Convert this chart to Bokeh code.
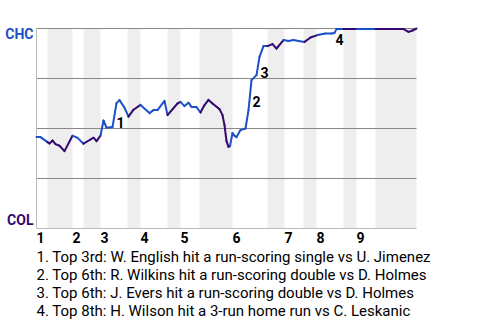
from bokeh.plotting import figure
from bokeh.models import Range1d, Label
from bokeh.embed import file_html
from bokeh.resources import INLINE

# ---- data ----
teams = ["CHC", "COL"]
innings = ["1", "2", "3", "4", "5", "6", "7", "8", "9"]
inning_start = [0, 36, 64, 104, 144, 196, 248, 280, 320]
bottom_start = [11, 47, 91, 131, 163, 231, 267, 307, 339]
bottom_end = [36, 64, 104, 144, 196, 248, 280, 320, 380]

# game progress (x) and CHC win probability (y)
progress = [0, 4, 11, 13, 16, 19, 23, 28, 36, 41, 47, 54, 57, 60, 64, 67, 70, 76, 80, 83,
            88, 92, 97, 104, 113, 117, 121, 128, 131, 141, 144, 148, 152, 155, 160, 164,
            168, 172, 176, 183, 186, 188, 190, 192, 193.5, 196, 198, 200, 204, 209, 212,
            215, 220, 223, 227, 231, 236, 240, 247, 252, 257, 262, 268, 274, 281, 289,
            295, 298, 300, 307, 320, 339, 367, 372, 376, 380]
chc_wp = [0.458, 0.457, 0.432, 0.425, 0.44, 0.422, 0.414, 0.387, 0.464, 0.453, 0.424,
          0.445, 0.454, 0.437, 0.464, 0.54, 0.504, 0.507, 0.627, 0.642, 0.604, 0.559,
          0.594, 0.618, 0.577, 0.592, 0.592, 0.638, 0.567, 0.625, 0.633, 0.612, 0.629,
          0.608, 0.607, 0.58, 0.617, 0.643, 0.625, 0.597, 0.567, 0.517, 0.437, 0.408,
          0.412, 0.477, 0.464, 0.457, 0.492, 0.5, 0.592, 0.742, 0.767, 0.858, 0.912,
          0.912, 0.922, 0.9, 0.942, 0.937, 0.942, 0.937, 0.933, 0.955, 0.967, 0.975,
          0.975, 0.978, 0.997, 0.997, 0.997, 0.997, 0.997, 0.983, 0.99, 1.0]
# team at bat for the play ending at each point
batting = ["CHC", "CHC", "CHC", "COL", "COL", "COL", "COL", "COL", "COL", "CHC", "CHC",
           "COL", "COL", "COL", "COL", "CHC", "CHC", "CHC", "CHC", "CHC", "CHC", "CHC",
           "COL", "COL", "CHC", "CHC", "CHC", "CHC", "CHC", "COL", "COL", "CHC", "CHC",
           "CHC", "CHC", "CHC", "COL", "COL", "COL", "COL", "COL", "COL", "COL", "COL",
           "COL", "CHC", "CHC", "CHC", "CHC", "CHC", "CHC", "CHC", "CHC", "CHC", "CHC",
           "CHC", "COL", "COL", "COL", "CHC", "CHC", "CHC", "CHC", "COL", "COL", "CHC",
           "CHC", "CHC", "CHC", "CHC", "COL", "CHC", "COL", "COL", "COL", "COL"]

grid_levels = [0.25, 0.5, 0.75, 1.0]

event_ids = ["1", "2", "3", "4"]
event_x = [80, 216, 224, 299]
event_y = [0.531, 0.6365, 0.781, 0.9465]
event_text = [
    "1. Top 3rd: W. English hit a run-scoring single vs U. Jimenez",
    "2. Top 6th: R. Wilkins hit a run-scoring double vs D. Holmes",
    "3. Top 6th: J. Evers hit a run-scoring double vs D. Holmes",
    "4. Top 8th: H. Wilson hit a 3-run home run vs C. Leskanic",
]

# ---- style ----
team_color = {"CHC": "#1a50c8", "COL": "#33086e"}
FONT = "Roboto"
X_END = 380

# the frame covers the whole canvas; the chart area spans x 0..380, y 0..1
p = figure(width=480, height=320, output_backend="svg", toolbar_location=None,
           x_range=Range1d(-36, 444), y_range=Range1d(-0.46, 1.14),
           x_axis_location=None, y_axis_location=None,
           min_border_left=0, min_border_right=0, min_border_top=0, min_border_bottom=0)
p.outline_line_color = None
p.background_fill_color = "white"
p.border_fill_color = "white"
for g in p.grid:
    g.visible = False

# shaded bottom halves
p.quad(left=bottom_start, right=bottom_end, bottom=0, top=1,
       fill_color="#eeeeee", line_color=None)

# grid lines
p.segment(x0=0, x1=X_END, y0=grid_levels, y1=grid_levels, line_color="#888888", line_width=1)
# left and bottom edges
p.segment(x0=[0, 0], x1=[X_END, 0], y0=[0, 0], y1=[0, 1], line_color="#bbbbbb", line_width=1)

# win probability line, colored by team at bat
cols = [team_color[t] for t in batting[1:]]
p.segment(x0=progress[:-1], y0=chc_wp[:-1], x1=progress[1:], y1=chc_wp[1:],
          line_color=cols, line_width=2, line_cap="round")

# team labels
p.add_layout(Label(x=-3, y=0.9725, text=teams[0], text_align="right", text_baseline="middle",
                   text_font=FONT, text_font_size="14px", text_font_style="bold",
                   text_color=team_color["CHC"]))
p.add_layout(Label(x=-3, y=0.0425, text=teams[1], text_align="right", text_baseline="middle",
                   text_font=FONT, text_font_size="14px", text_font_style="bold",
                   text_color=team_color["COL"]))

# inning labels
for lab, xs in zip(innings, inning_start):
    p.add_layout(Label(x=xs, y=-0.0465, text=lab, text_align="left", text_baseline="alphabetic",
                       text_font=FONT, text_font_size="14px", text_font_style="bold",
                       text_color="black"))

# event markers
for lab, ex, ey in zip(event_ids, event_x, event_y):
    p.add_layout(Label(x=ex, y=ey, text=lab, text_align="left", text_baseline="alphabetic",
                       text_font=FONT, text_font_size="14px", text_font_style="bold",
                       text_color="black"))

# legend lines
for i, t in enumerate(event_text):
    p.add_layout(Label(x=0, y=-0.1415 - 0.0905 * i, text=t, text_align="left",
                       text_baseline="alphabetic", text_font=FONT, text_font_size="15px",
                       text_color="black"))

open("out.html", "w").write(file_html(p, INLINE))
